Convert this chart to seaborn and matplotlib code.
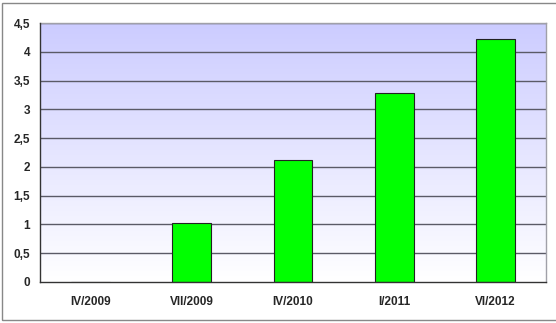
import numpy as np
import pandas as pd
import matplotlib
matplotlib.use("Agg")
import matplotlib.pyplot as plt
import seaborn as sns
from matplotlib.patches import Rectangle

categories = ["IV/2009", "VII/2009", "IV/2010", "I/2011", "VI/2012"]
values = [0.0, 1.02, 2.12, 3.28, 4.22]
ytick_vals = [0, 0.5, 1, 1.5, 2, 2.5, 3, 3.5, 4, 4.5]
ytick_labels = ["0", "0,5", "1", "1,5", "2", "2,5", "3", "3,5", "4", "4,5"]

sns.set_style("white")
plt.rcParams['font.family'] = ['Liberation Sans', 'DejaVu Sans']

fig = plt.figure(figsize=(5.56, 3.23), dpi=100)
ax = fig.add_axes([40/556, 1-282/323, 506/556, 259/323])

df = pd.DataFrame({"cat": categories, "val": values})

# gradient background
grad = np.linspace(0, 1, 256).reshape(-1, 1)
top = np.array([204, 204, 255]) / 255.0
bot = np.array([255, 255, 255]) / 255.0
img = bot[None, None, :] * (1 - grad[:, :, None]) + top[None, None, :] * grad[:, :, None]
ax.imshow(img, extent=[-0.5, 4.5, 0, 4.5], origin="lower", aspect="auto", zorder=0)

for y in ytick_vals[1:]:
    ax.axhline(y, color="#5a5a66", lw=1.0, zorder=1)

sns.barplot(data=df, x="cat", y="val", color="#00ff00", saturation=1,
            width=0.385, edgecolor="#222222", linewidth=0.8, ax=ax, zorder=2)

ax.set_xlim(-0.5, 4.5)
ax.set_ylim(0, 4.5)
ax.set_xlabel("")
ax.set_ylabel("")
ax.set_yticks(ytick_vals)
ax.set_yticklabels(ytick_labels, fontsize=8.5, fontweight="bold")
ax.set_xticks(range(len(categories)))
ax.set_xticklabels(categories, fontsize=8.5, fontweight="bold")
ax.set_xticks(np.arange(-0.5, 5, 1), minor=True)
ax.tick_params(axis="x", which="major", length=0, pad=10)
ax.tick_params(axis="x", which="minor", length=4, width=1, color="#333333", direction="out")
ax.tick_params(axis="y", length=4, width=1, color="#333333", direction="out", pad=3)

for s in ["left", "bottom"]:
    ax.spines[s].set_color("#333333")
    ax.spines[s].set_linewidth(1)
for s in ["top", "right"]:
    ax.spines[s].set_color("#a0a0a8")
    ax.spines[s].set_linewidth(1)
ax.spines["left"].set_zorder(3)
ax.spines["bottom"].set_zorder(3)

# outer chart border
fig.patches.append(Rectangle((2/556, 3/323), 1.0, 317/323, transform=fig.transFigure,
                             fill=False, edgecolor="#888888", lw=1.0))

fig.savefig("out.png", dpi=100)
